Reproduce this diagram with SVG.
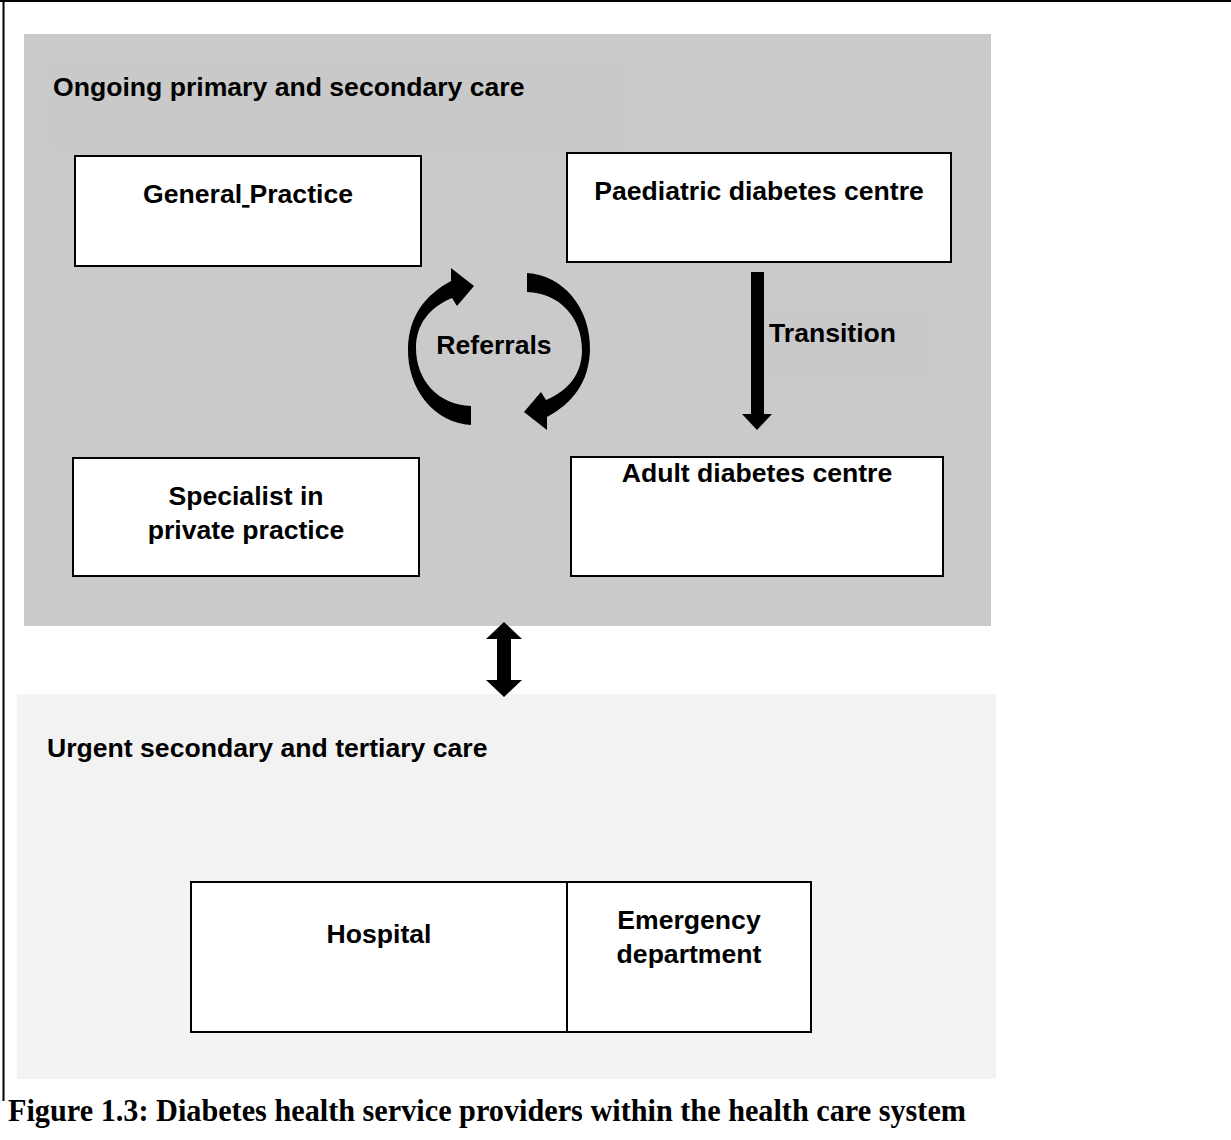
<svg xmlns="http://www.w3.org/2000/svg" width="1231" height="1140" viewBox="0 0 1231 1140">
  <style>
    .lbl { font-family: "Liberation Sans", Arial, sans-serif; font-weight: bold; font-size: 26.6px; fill: #000; }
    .mid { text-anchor: middle; }
    .box { fill: #fff; stroke: #000; stroke-width: 2; }
    .arrow { fill: #000; stroke: none; }
    .cap { font-family: "Liberation Serif", "Times New Roman", serif; font-weight: bold; font-size: 31px; fill: #000; }
  </style>
  <defs>
    <!-- one curved referral arrow; the second is the same shape turned half a turn -->
    <path id="curl" d="M 527,273 C 563,275 591,308 590,350 C 589,382 573,403 547,417 L 547,430 L 524,412 L 541,392 L 546,400 C 568,391 582,374 582,350 C 582,318 560,293 527,292 Z"/>
  </defs>

  <rect width="1231" height="1140" fill="#fff"/>
  <!-- page frame: top and left rules -->
  <line x1="0" y1="1" x2="1231" y2="1" stroke="#000" stroke-width="2"/>
  <line x1="3.5" y1="0" x2="3.5" y2="1101" stroke="#000" stroke-width="2"/>

  <!-- ongoing care panel -->
  <g id="panel-ongoing">
    <rect x="24" y="34" width="967" height="592" fill="#cacaca"/>
    <rect x="50" y="59" width="578" height="92" fill="#c9c9c9"/>
    <rect x="760" y="310" width="170" height="66" fill="#c9c9c9"/>
    <text class="lbl" x="53" y="96">Ongoing primary and secondary care</text>
  </g>

  <!-- urgent care panel -->
  <g id="panel-urgent">
    <rect x="17" y="694" width="979" height="385" fill="#f3f3f3"/>
    <rect x="40" y="714" width="477" height="108" fill="#f2f2f2"/>
    <text class="lbl" x="47" y="757">Urgent secondary and tertiary care</text>
  </g>

  <g id="general-practice">
    <rect class="box" x="75" y="156" width="346" height="110"/>
    <text class="lbl mid" x="248" y="203">General<tspan text-decoration="underline"> </tspan>Practice</text>
  </g>

  <g id="paediatric-centre">
    <rect class="box" x="567" y="153" width="384" height="109"/>
    <text class="lbl mid" x="759" y="200">Paediatric diabetes centre</text>
  </g>

  <g id="specialist">
    <rect class="box" x="73" y="458" width="346" height="118"/>
    <text class="lbl mid" x="246" y="505">Specialist in</text>
    <text class="lbl mid" x="246" y="539">private practice</text>
  </g>

  <g id="adult-centre">
    <rect class="box" x="571" y="457" width="372" height="119"/>
    <text class="lbl mid" x="757" y="482">Adult diabetes centre</text>
  </g>

  <g id="hospital">
    <rect class="box" x="191" y="882" width="376" height="150"/>
    <text class="lbl mid" x="379" y="943">Hospital</text>
  </g>

  <g id="emergency">
    <rect class="box" x="567" y="882" width="244" height="150"/>
    <text class="lbl mid" x="689" y="929">Emergency</text>
    <text class="lbl mid" x="689" y="963">department</text>
  </g>

  <g id="connectors">
    <!-- referrals cycle -->
    <use href="#curl" class="arrow"/>
    <use href="#curl" class="arrow" transform="rotate(180 499 349)"/>
    <text class="lbl mid" x="494" y="354">Referrals</text>

    <!-- transition: paediatric to adult -->
    <polygon class="arrow" points="751,272 764,272 764,414 772,414 757,430 742,414 751,414"/>
    <text class="lbl" x="769" y="342">Transition</text>

    <!-- link between the two care panels -->
    <polygon class="arrow" points="504,622 522,639 511,639 511,680 522,680 504,697 486,680 497,680 497,639 486,639"/>
  </g>

  <text class="cap" x="8" y="1121" textLength="958" lengthAdjust="spacingAndGlyphs">Figure 1.3: Diabetes health service providers within the health care system</text>
</svg>
